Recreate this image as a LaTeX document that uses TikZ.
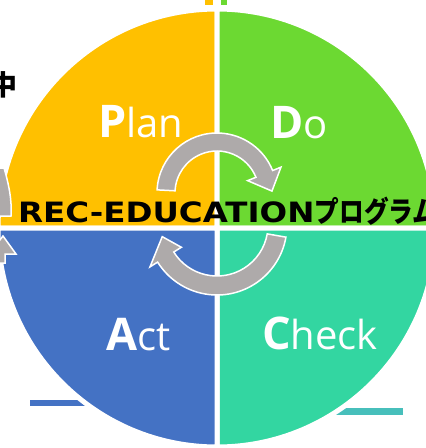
\documentclass[tikz,border=0pt]{standalone}
\usepackage{fontspec}
\usepackage{tikz}
\usetikzlibrary{calc}
\setmainfont{Open Sans}
\newfontfamily\recfont{DejaVu Sans}
\newfontfamily\jpfont{Noto Sans CJK JP}
\definecolor{pdca_p}{HTML}{FFC000}
\definecolor{pdca_d}{HTML}{6CD932}
\definecolor{pdca_c}{HTML}{33D6A1}
\definecolor{pdca_a}{HTML}{4472C4}
\definecolor{cyc_gray}{HTML}{AEAAAA}
\definecolor{line_c}{HTML}{47BFBB}
\tikzset{
  quad/.style = {draw=white, line width=5pt, line join=miter},
  quad_p/.style = {quad, fill=pdca_p},% plan
  quad_d/.style = {quad, fill=pdca_d},% do
  quad_c/.style = {quad, fill=pdca_c},% check
  quad_a/.style = {quad, fill=pdca_a},% act
  cyc/.style = {fill=cyc_gray, draw=white, line width=1.5pt, line join=miter},
  lbl/.style = {white, inner sep=0pt, anchor=base west},
  rec/.style = {inner sep=0pt, anchor=base west}
}
\newcommand{\pdcalbl}[2]{{\fontsize{45}{45}\selectfont\bfseries #1}{\fontsize{40}{40}\selectfont #2}}

\begin{document}
\begin{tikzpicture}[x=1pt,y=-1pt]
\useasboundingbox (0,0) rectangle (426,448);
\clip (0,0) rectangle (426,448);
\coordinate (C) at (217,228);
\coordinate (T) at (217,193);
\coordinate (B) at (217,225);
% lines behind the circle
\coordinate (bl_s) at (30,403);
\coordinate (bl_e) at (150,403);
\coordinate (tl_s) at (300,411.5);
\coordinate (tl_e) at (403,411.5);
\draw[pdca_a, line width=6pt] (bl_s) -- (bl_e);
\draw[line_c, line width=7pt] (tl_s) -- (tl_e);
% bits cut off at the top
\fill[pdca_p] (205,0) rectangle (213,5);
\fill[pdca_d] (221,0) rectangle (227,5);
% four quarters
\path[quad_p] (C) -- ($(C)+(180:219)$) arc[start angle=180, end angle=270, radius=219] -- cycle;
\path[quad_d] (C) -- ($(C)+(270:219)$) arc[start angle=270, end angle=360, radius=219] -- cycle;
\path[quad_c] (C) -- ($(C)+(0:219)$) arc[start angle=0, end angle=90, radius=219] -- cycle;
\path[quad_a] (C) -- ($(C)+(90:219)$) arc[start angle=90, end angle=180, radius=219] -- cycle;
% cycle arrows
\path[cyc] ($(T)+(183:60)$) arc[start angle=183, end angle=338, radius=60]
  -- ($(T)+(338:69)$) -- ($(T)+(358:55)$) -- ($(T)+(338:33)$)
  -- ($(T)+(338:42)$) arc[start angle=338, end angle=183, radius=42] -- cycle;
\path[cyc] ($(B)+(10:70)$) arc[start angle=10, end angle=148, radius=70]
  -- ($(B)+(148:79)$) -- ($(B)+(168:56)$) -- ($(B)+(148:42)$)
  -- ($(B)+(148:51)$) arc[start angle=148, end angle=10, radius=51] -- cycle;
% arrows cut off on the left
\path[cyc] (-6,168) -- (4,168) .. controls (9,185) and (12,200) .. (11,216) -- (-6,216) -- cycle;
\path[cyc] (-6,263) -- (-6,254) -- (-11,254) -- (3,236) -- (16,254) -- (5,254) -- (5,263) -- cycle;
% labels
\node[lbl] (plan) at (98,137) {\pdcalbl{P}{lan}};
\node[lbl] (do) at (270,138) {\pdcalbl{D}{o}};
\node[lbl] (act) at (106,350) {\pdcalbl{A}{ct}};
\node[lbl] (check) at (262,349) {\pdcalbl{C}{heck}};
\node[rec, xscale=1.16] (rec_lat) at (18,222)
  {\recfont\bfseries\fontsize{28}{28}\selectfont REC-EDUCATION};
\node[rec, xscale=0.85] (rec_kana) at (rec_lat.base east)
  {\jpfont\bfseries\fontsize{29}{29}\selectfont プログラム};
\node[inner sep=0pt] (naka) at (4,85) {\jpfont\bfseries\fontsize{28}{28}\selectfont 中};
\end{tikzpicture}
\end{document}
